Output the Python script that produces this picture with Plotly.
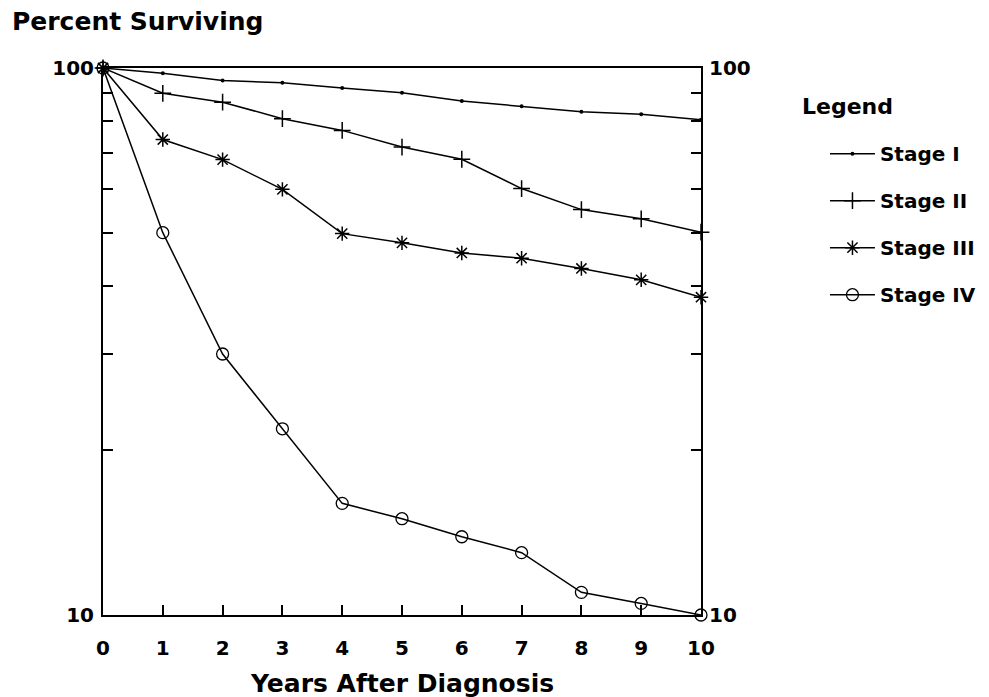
import plotly.graph_objects as go

years = list(range(11))
stage1 = [100, 97.8, 94.9, 94.0, 91.9, 90.1, 87.0, 85.1, 83.2, 82.3, 80.4]
stage2 = [100, 89.9, 86.6, 80.8, 76.9, 71.7, 68.1, 60.2, 55.1, 53.0, 50.1]
stage3 = [100, 74.0, 68.0, 60.0, 49.8, 47.9, 45.9, 44.9, 43.0, 41.0, 38.1]
stage4 = [100, 50.0, 30.0, 21.9, 16.0, 15.0, 13.9, 13.0, 11.0, 10.5, 10.0]
series_names = ["Stage I", "Stage II", "Stage III", "Stage IV"]
y_tickvals = [10, 20, 30, 40, 50, 60, 70, 80, 90, 100]
y_ticktext = ["10", "", "", "", "", "", "", "", "", "100"]
x_tickvals = list(range(11))

FONT = "DejaVu Sans"
series = [stage1, stage2, stage3, stage4]
markers = [
    dict(symbol="circle", size=4, color="black"),
    dict(symbol="cross-thin", size=12, color="black", line=dict(width=1.5, color="black")),
    dict(symbol="asterisk", size=12, color="black", line=dict(width=1.5, color="black")),
    dict(symbol="circle-open", size=12, color="black", line=dict(width=1.3, color="black")),
]

fig = go.Figure()
for name, vals, mk in zip(series_names, series, markers):
    fig.add_trace(go.Scatter(
        x=years, y=vals, name=name, mode="lines+markers",
        line=dict(color="black", width=1.5), marker=mk,
        cliponaxis=False, legendgroup=name,
    ))

axis_common = dict(showline=True, linecolor="black", linewidth=2, showgrid=False,
                   zeroline=False, ticks="inside", ticklen=10, tickwidth=1.5,
                   tickcolor="black")

fig.update_layout(
    width=989, height=689,
    margin=dict(l=95, r=296, t=60, b=82),
    paper_bgcolor="white", plot_bgcolor="white",
    font=dict(family=FONT, color="black", size=20, weight="bold"),
    xaxis=dict(range=[0, 10], tickvals=x_tickvals, mirror=True,
               tickfont=dict(family=FONT, size=20, weight="bold"),
               ticklabelstandoff=14,
               **axis_common),
    yaxis=dict(type="log", range=[1, 2], tickvals=y_tickvals, ticktext=y_ticktext,
               mirror=True, tickfont=dict(family=FONT, size=20, weight="bold"),
               ticklabelstandoff=3,
               **axis_common),
    yaxis2=dict(type="log", range=[1, 2], tickvals=y_tickvals, ticktext=y_ticktext,
                overlaying="y", side="right", tickfont=dict(family=FONT, size=20, weight="bold"),
                ticklabelstandoff=2,
                **axis_common),
    showlegend=True,
    legend=dict(x=1.2073, y=0.879, xanchor="left", yanchor="top",
                font=dict(family=FONT, size=20, weight="bold"),
                itemwidth=45, tracegroupgap=18, bgcolor="rgba(0,0,0,0)"),
    annotations=[
        dict(text="Percent Surviving", xref="paper", yref="paper", x=-0.155, y=1.0859,
             xanchor="left", yanchor="middle", showarrow=False,
             font=dict(family=FONT, size=25, weight="bold")),
        dict(text="Years After Diagnosis", xref="paper", yref="paper", x=0.5, y=-0.126,
             xanchor="center", yanchor="middle", showarrow=False,
             font=dict(family=FONT, size=25, weight="bold")),
        dict(text="Legend", xref="paper", yref="paper", x=1.1653, y=0.9305,
             xanchor="left", yanchor="middle", showarrow=False,
             font=dict(family=FONT, size=22, weight="bold")),
    ],
)
# invisible anchor trace so the right axis renders
fig.add_trace(go.Scatter(x=[0], y=[100], yaxis="y2", mode="markers",
                         marker=dict(opacity=0), showlegend=False, hoverinfo="skip"))

fig.write_html("out.html")
